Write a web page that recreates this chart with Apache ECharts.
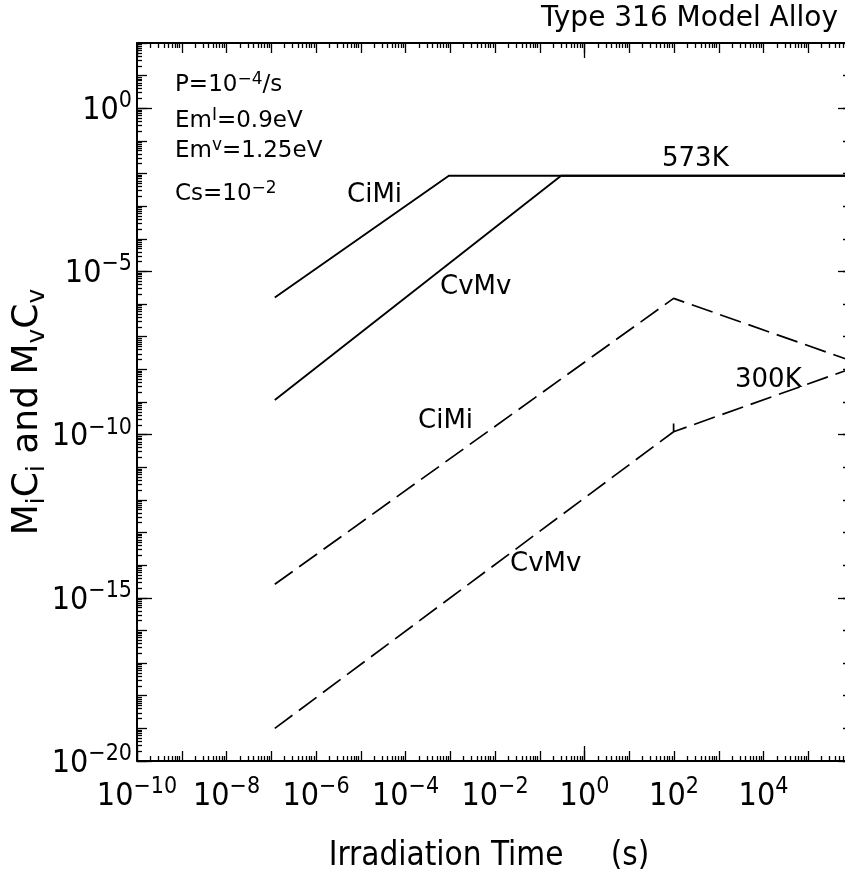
<!DOCTYPE html>
<html>
<head>
<meta charset="utf-8">
<script src="https://cdn.jsdelivr.net/npm/echarts@6/dist/echarts.min.js"></script>
<style>html,body{margin:0;padding:0;background:#fff}#chart{width:845px;height:873px}</style>
</head>
<body>
<div id="chart"></div>
<script>
// ---------- data ----------
const xRange = [1e-10, 1e6];
const yRange = [1e-20, 1e2];
const xTickLabels = [1e-10, 1e-8, 1e-6, 1e-4, 1e-2, 1e0, 1e2, 1e4];
const yTickLabels = [1e-20, 1e-15, 1e-10, 1e-5, 1e0];
const xDecades = [1e-10,1e-9,1e-8,1e-7,1e-6,1e-5,1e-4,1e-3,1e-2,1e-1,1e0,1e1,1e2,1e3,1e4,1e5,1e6];
const yDecades = [1e-20,1e-19,1e-18,1e-17,1e-16,1e-15,1e-14,1e-13,1e-12,1e-11,1e-10,1e-9,1e-8,1e-7,1e-6,1e-5,1e-4,1e-3,1e-2,1e-1,1e0,1e1,1e2];
const xLongTicks = [1e-10, 1e0];
const yLongTicks = [1e-20, 1e-15, 1e-10, 1e-5, 1e0];

// 573 K (solid)
const cimi573 = [[1.2e-7, 1.6e-6], [9.3e-4, 8.6e-3], [1e6, 8.6e-3]];
const cvmv573 = [[1.2e-7, 1.15e-9], [0.30, 8.6e-3], [1e6, 8.6e-3]];
// 300 K (dashed)
const cimi300 = [[1.2e-7, 2.6e-15], [98, 1.5e-6], [1e6, 1.75e-8]];
const cvmv300 = [[1.2e-7, 1.0e-19], [98, 1.23e-10], [98, 2.6e-10], [98, 1.23e-10], [1e6, 1.1e-8]];

// ---------- helpers ----------
const F = 'DejaVu Sans';
const FC = "'DejaVu Sans Condensed', 'DejaVu Sans', sans-serif";
function minorsOf(decades) {
  const out = [];
  for (let i = 0; i < decades.length - 1; i++) {
    for (let m = 2; m <= 9; m++) out.push(Number(m + 'e' + Math.round(Math.log10(decades[i]))));
  }
  return out;
}
const xMinor = minorsOf(xDecades);
const yMinor = minorsOf(yDecades);

function supLabel(v) {
  const e = Math.round(Math.log10(v));
  return '{b|10}{e|' + (e < 0 ? '\u2212' + (-e) : '' + e) + '}';
}
const labelRich = {
  b: { fontFamily: FC, fontSize: 32, color: '#000', lineHeight: 37, verticalAlign: 'bottom' },
  e: { fontFamily: FC, fontSize: 23, color: '#000', verticalAlign: 'top' }
};

function tickAxis(kind, pos, ticks, len, showLine) {
  const isX = kind === 'x';
  return {
    type: 'log', logBase: 10, gridIndex: 0, position: pos,
    min: isX ? xRange[0] : yRange[0], max: isX ? xRange[1] : yRange[1],
    axisLine: { show: showLine, onZero: false, lineStyle: { color: '#000', width: 2 } },
    axisTick: { show: true, inside: true, length: len, customValues: ticks, lineStyle: { color: '#000', width: 1.3 } },
    axisLabel: { show: false },
    splitLine: { show: false },
    minorTick: { show: false },
    minorSplitLine: { show: false }
  };
}

const xMain = tickAxis('x', 'bottom', xDecades, 10, true);
xMain.axisLabel = {
  show: true, customValues: xTickLabels, formatter: supLabel, rich: labelRich, margin: 15
};
xMain.name = 'Irradiation Time     (s)';
xMain.nameLocation = 'middle';
xMain.nameGap = 79;
xMain.nameMoveOverlap = false;
xMain.nameTextStyle = { fontFamily: FC, fontSize: 33, color: '#000', padding: [0, 12, 0, 0] };

const yMain = tickAxis('y', 'left', yDecades, 10, true);
yMain.axisLabel = {
  show: true, customValues: yTickLabels, formatter: supLabel, rich: labelRich, margin: 5
};
yMain.name = '{t|M}{s|i}{t|C}{s|i}{t| and M}{s|v}{t|C}{s|v}';
yMain.nameLocation = 'middle';
yMain.nameRotate = 90;
yMain.nameGap = 87;
yMain.nameMoveOverlap = false;
yMain.nameTextStyle = {
  padding: [0, 20, 0, 0],
  rich: {
    t: { fontFamily: F, fontSize: 36, color: '#000', lineHeight: 40, verticalAlign: 'top' },
    s: { fontFamily: F, fontSize: 25, color: '#000', verticalAlign: 'bottom' }
  }
};

const xAxes = [
  xMain,
  tickAxis('x', 'bottom', xMinor, 5, false),
  tickAxis('x', 'bottom', xLongTicks, 15, false),
  tickAxis('x', 'top', xDecades, 10, true),
  tickAxis('x', 'top', xMinor, 5, false),
  tickAxis('x', 'top', xLongTicks, 15, false)
];
const yAxes = [
  yMain,
  tickAxis('y', 'left', yMinor, 5, false),
  tickAxis('y', 'left', yLongTicks, 15, false),
  tickAxis('y', 'right', yDecades, 10, true),
  tickAxis('y', 'right', yMinor, 5, false),
  tickAxis('y', 'right', yLongTicks, 15, false)
];

function lineSeries(name, data, dashed) {
  return {
    name: name, type: 'line', data: data, xAxisIndex: 0, yAxisIndex: 0,
    symbol: 'none', showSymbol: false, silent: true, animation: false,
    lineStyle: { color: '#000', width: dashed ? 1.7 : 1.9, type: dashed ? [22, 8] : 'solid' }
  };
}

const annRich = {
  b: { fontFamily: F, fontSize: 23, color: '#000', lineHeight: 26, verticalAlign: 'bottom' },
  s: { fontFamily: F, fontSize: 17, color: '#000', verticalAlign: 'top' }
};
function ann(text, x, y, size) {
  return {
    type: 'text', x: x, y: y, silent: true,
    style: { text: text, fontFamily: F, fontSize: size || 26, fill: '#000', align: 'left', verticalAlign: 'middle' }
  };
}
function annR(text, x, y) {
  return {
    type: 'text', x: x, y: y, silent: true,
    style: { text: text, rich: annRich, fontFamily: F, fontSize: 23, fill: '#000', align: 'left', verticalAlign: 'middle' }
  };
}

const chart = echarts.init(document.getElementById('chart'), null, { renderer: 'canvas' });
chart.setOption({
  backgroundColor: '#fff',
  animation: false,
  title: {
    text: 'Type 316 Model Alloy', right: 7, top: 5, padding: 0,
    textStyle: { fontFamily: F, fontSize: 28, fontWeight: 'normal', color: '#000' }
  },
  grid: { left: 137, top: 43, width: 716, height: 718, containLabel: false, outerBoundsMode: 'none' },
  xAxis: xAxes,
  yAxis: yAxes,
  series: [
    lineSeries('CiMi 573K', cimi573, false),
    lineSeries('CvMv 573K', cvmv573, false),
    lineSeries('CiMi 300K', cimi300, true),
    lineSeries('CvMv 300K', cvmv300, true)
  ],
  graphic: [
    annR('{b|P=10}{s|\u22124}{b|/s}', 175, 84),
    annR('{b|Em}{s|I}{b|=0.9eV}', 175, 120),
    annR('{b|Em}{s|v}{b|=1.25eV}', 175, 150),
    annR('{b|Cs=10}{s|\u22122}', 175, 193),
    ann('CiMi', 347, 195),
    ann('CvMv', 440, 287),
    ann('573K', 662, 159),
    ann('CiMi', 418, 421),
    ann('CvMv', 510, 564),
    ann('300K', 735, 380)
  ]
});
</script>
</body>
</html>
